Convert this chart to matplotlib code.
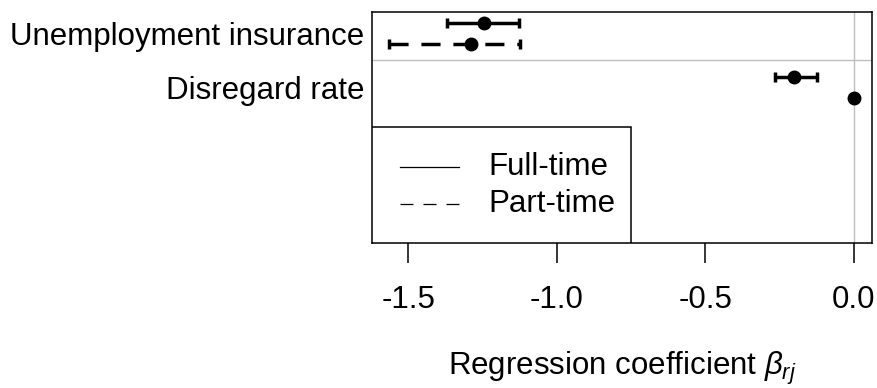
import numpy as np
import matplotlib
matplotlib.use('Agg')
from matplotlib import pyplot as plt
from matplotlib.patches import Rectangle

plt.rcParams['font.family'] = ['Liberation Sans', 'DejaVu Sans']
plt.rcParams['mathtext.fontset'] = 'custom'
plt.rcParams['mathtext.rm'] = 'Liberation Sans'
plt.rcParams['mathtext.it'] = 'Liberation Sans:italic'

# Коефіцієнти регресії та довірчі інтервали
variables = ['Unemployment insurance', 'Disregard rate']
full_est = [-1.245, -0.200]
full_lo = [-1.371, -0.265]
full_hi = [-1.127, -0.125]
part_est = [-1.289, 0.0]
part_lo = [-1.565, 0.0]
part_hi = [-1.123, 0.0]
xticks = [-1.5, -1.0, -0.5, 0.0]

group_y = np.array([0.5, 3.04])
y_full = group_y - 0.5
y_part = group_y + 0.5

fs = 22.5
fig = plt.figure(figsize=(8.77, 3.88), dpi=100)
ax = fig.add_axes([0.4238, 0.3745, 0.5708, 0.5938])

ax.axvline(0, color='#bebebe', lw=1.0, zorder=0)
ax.axhline(1.76, color='#bebebe', lw=1.0, zorder=0)

lw = 2.5
full_err = [np.subtract(full_est, full_lo), np.subtract(full_hi, full_est)]
part_err = [np.subtract(part_est, part_lo), np.subtract(part_hi, part_est)]

ax.errorbar(full_est, y_full, xerr=full_err, fmt='none', ecolor='black',
            elinewidth=lw, capsize=3.8, capthick=lw)
# інтервал для часткової зайнятості лише там, де він ненульовий
mask = np.subtract(part_hi, part_lo) > 0
eb = ax.errorbar(np.array(part_est)[mask], y_part[mask],
                 xerr=[part_err[0][mask], part_err[1][mask]], fmt='none',
                 ecolor='black', elinewidth=lw, capsize=3.8, capthick=lw)
eb[2][0].set_linestyle((0, (5.5, 3.7)))

ax.plot(full_est, y_full, 'o', color='black', ms=9, zorder=3)
ax.plot(part_est, y_part, 'o', color='black', ms=9, zorder=3)

ax.set_xlim(-1.623, 0.0627)
ax.set_ylim(10.36, -0.505)
ax.set_xticks(xticks)
ax.set_xticklabels(['%.1f' % t for t in xticks], fontsize=fs)
ax.tick_params(axis='x', length=14.4, width=1.1, pad=16)
ax.set_yticks(group_y)
ax.set_yticklabels(variables, fontsize=fs)
ax.tick_params(axis='y', length=0, pad=5)
for s in ax.spines.values():
    s.set_linewidth(1.1)
ax.set_xlabel(r'Regression coefficient $\beta_{rj}$', fontsize=fs, labelpad=25)

# Легенда
ax.add_patch(Rectangle((0, 0), 0.519, 0.5, transform=ax.transAxes,
                       facecolor='white', edgecolor='black', lw=1.1, zorder=4))
ax.plot([0.0565, 0.1744], [0.3297, 0.3297], transform=ax.transAxes,
        color='black', lw=0.9, zorder=5)
ax.plot([0.0565, 0.1744], [0.1676, 0.1676], transform=ax.transAxes,
        color='black', lw=0.9, ls=(0, (10.4, 8)), zorder=5)
ax.text(0.2322, 0.3297, 'Full-time', transform=ax.transAxes, fontsize=fs,
        va='center', ha='left', zorder=5)
ax.text(0.2322, 0.1676, 'Part-time', transform=ax.transAxes, fontsize=fs,
        va='center', ha='left', zorder=5)

plt.savefig('out.png', dpi=100)
